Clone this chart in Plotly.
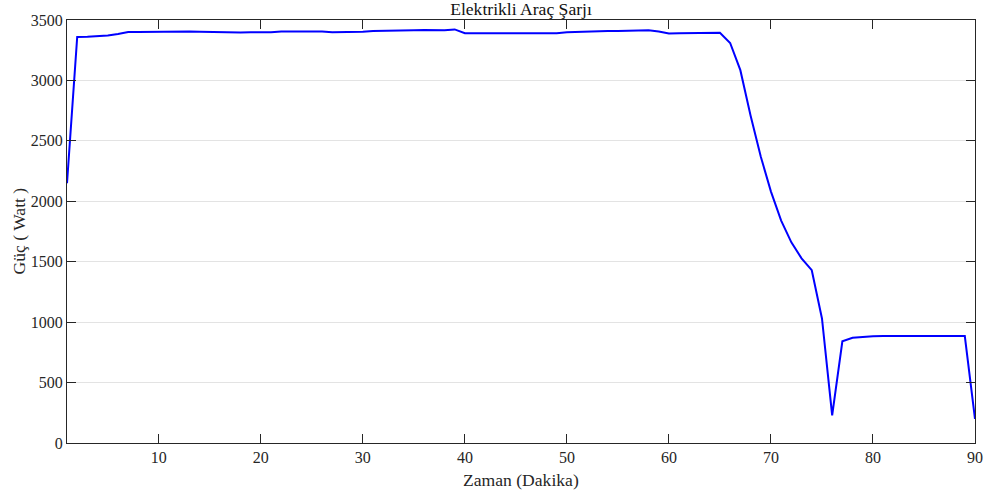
import plotly.graph_objects as go

# Charging session: power drawn each minute
minutes = list(range(1, 91))
power_w = [
    2150, 3360, 3362, 3368, 3372, 3385, 3400, 3400, 3402, 3400,
    3401, 3403, 3405, 3402, 3400, 3398, 3397, 3396, 3398, 3397,
    3398, 3404, 3405, 3406, 3407, 3404, 3399, 3400, 3400, 3402,
    3410, 3413, 3414, 3415, 3416, 3417, 3414, 3415, 3422, 3390,
    3390, 3390, 3391, 3392, 3393, 3394, 3392, 3390, 3391, 3398,
    3402, 3404, 3406, 3408, 3410, 3412, 3414, 3416, 3405, 3388,
    3390, 3392, 3394, 3396, 3394, 3310, 3085, 2710, 2370, 2080,
    1840, 1660, 1528, 1430, 1030, 228, 842, 870, 880, 884,
    885, 885, 885, 885, 885, 885, 885, 885, 885, 199,
]

x_ticks = [10, 20, 30, 40, 50, 60, 70, 80, 90]
y_ticks = [0, 500, 1000, 1500, 2000, 2500, 3000, 3500]

title_text = "Elektrikli Araç Şarjı"
x_label = "Zaman (Dakika)"
y_label = "Güç ( Watt )"

FONT = "Liberation Serif, Times New Roman, serif"
AXIS_COLOR = "#262626"
W, H = 985, 497
L, R, T, B = 67, 10, 20, 54

fig = go.Figure(
    go.Scatter(
        x=minutes,
        y=power_w,
        mode="lines",
        line=dict(color="#0000ff", width=2),
        showlegend=False,
    )
)

axis_common = dict(
    showline=True,
    linecolor=AXIS_COLOR,
    linewidth=1,
    mirror="ticks",
    ticks="inside",
    ticklen=9,
    tickwidth=1,
    tickcolor=AXIS_COLOR,
    tickfont=dict(family=FONT, size=16, color=AXIS_COLOR),
    zeroline=False,
    automargin=False,
)

fig.update_xaxes(range=[1, 90], tickvals=x_ticks, showgrid=False, **axis_common)
fig.update_yaxes(
    range=[0, 3500],
    tickvals=y_ticks,
    showgrid=True,
    gridcolor="#e3e3e3",
    gridwidth=1,
    **axis_common,
)

label_font = dict(family=FONT, size=17.6, color=AXIS_COLOR)
plot_cx = (L + (W - R)) / 2

fig.update_layout(
    width=W,
    height=H,
    margin=dict(l=L, r=R, t=T, b=B),
    paper_bgcolor="white",
    plot_bgcolor="white",
    font=dict(family=FONT, size=16, color=AXIS_COLOR),
    title=dict(
        text=title_text,
        x=plot_cx / W,
        xanchor="center",
        y=1 - 9 / H,
        yanchor="middle",
        yref="container",
        font=dict(family=FONT, size=17.6, color="#111111"),
    ),
    annotations=[
        dict(
            text=x_label,
            xref="paper", yref="paper",
            x=0.5, y=-(480 - (H - B)) / (H - T - B),
            xanchor="center", yanchor="middle",
            showarrow=False, font=label_font,
        ),
        dict(
            text=y_label,
            xref="paper", yref="paper",
            x=-(L - 18) / (W - L - R), y=0.5,
            xanchor="center", yanchor="middle",
            textangle=-90,
            showarrow=False, font=label_font,
        ),
    ],
)

fig.write_html("out.html")
